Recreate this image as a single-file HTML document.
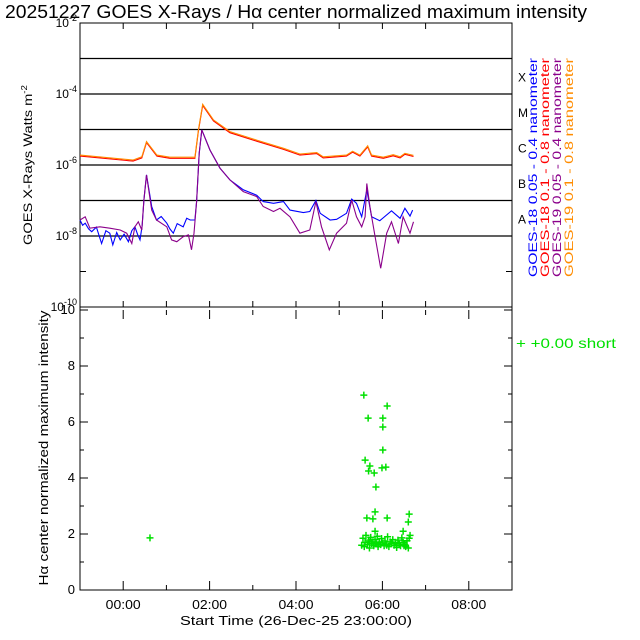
<!DOCTYPE html>
<html><head><meta charset="utf-8"><style>
body{margin:0;background:#fff;}
svg{display:block;font-family:"Liberation Sans",sans-serif;}
</style></head><body>
<svg id="c" width="640" height="640" viewBox="0 0 640 640"></svg>
<script>
const tOrange=[-1,0.23,0.43,0.54,0.78,1.08,1.66,1.74,1.84,2.09,2.47,3.09,3.71,4.09,4.48,4.63,5.17,5.31,5.48,5.66,5.75,6.02,6.25,6.41,6.52,6.72];
const logOrange=[-5.72,-5.86,-5.77,-5.34,-5.72,-5.78,-5.78,-5.01,-4.29,-4.73,-5.06,-5.30,-5.53,-5.69,-5.65,-5.77,-5.72,-5.61,-5.72,-5.46,-5.72,-5.78,-5.71,-5.77,-5.67,-5.73];
const tBlue=[-1,-0.94,-0.88,-0.80,-0.73,-0.62,-0.50,-0.40,-0.31,-0.24,-0.15,-0.07,0.02,0.12,0.20,0.27,0.33,0.39,0.44,0.48,0.54,0.66,0.77,0.88,1.01,1.08,1.16,1.25,1.39,1.47,1.55,1.66,1.70,1.76,1.82,2.01,2.24,2.47,2.78,3.09,3.24,3.48,3.71,3.86,4.17,4.32,4.46,4.56,4.79,4.94,5.17,5.29,5.40,5.52,5.64,5.75,5.94,6.21,6.41,6.52,6.64,6.70];
const logBlue=[-7.55,-7.70,-7.64,-7.80,-7.88,-7.75,-8.21,-7.85,-7.92,-8.25,-7.90,-8.11,-7.95,-8.16,-7.85,-7.74,-7.95,-8.11,-7.70,-6.99,-6.28,-7.17,-7.55,-7.45,-7.64,-7.80,-7.92,-7.65,-7.74,-7.50,-7.55,-7.55,-7.03,-5.67,-5.01,-5.58,-6.09,-6.42,-6.70,-6.85,-7.03,-7.08,-7.03,-7.27,-7.34,-7.31,-7.00,-7.36,-7.55,-7.53,-7.36,-6.96,-7.08,-7.46,-6.70,-7.46,-7.57,-7.29,-7.50,-7.22,-7.44,-7.27];
const tPurple=[-1,-0.88,-0.77,-0.54,-0.31,-0.07,0.08,0.20,0.27,0.35,0.43,0.48,0.54,0.66,0.77,1.01,1.12,1.24,1.39,1.51,1.58,1.64,1.70,1.76,1.82,2.01,2.24,2.47,2.78,3.09,3.24,3.48,3.63,3.86,4.09,4.32,4.46,4.59,4.77,4.94,5.17,5.29,5.40,5.52,5.60,5.64,5.71,5.83,5.96,6.10,6.21,6.37,6.48,6.64,6.72];
const logPurple=[-7.55,-7.46,-7.78,-7.74,-7.78,-7.83,-7.92,-8.21,-7.74,-7.60,-7.83,-6.99,-6.28,-7.27,-7.55,-7.74,-8.11,-8.16,-8.02,-7.97,-8.39,-7.92,-7.03,-5.67,-5.01,-5.58,-6.09,-6.42,-6.75,-6.89,-7.17,-7.31,-7.22,-7.46,-7.92,-7.83,-7.03,-7.74,-8.39,-7.92,-7.64,-6.99,-7.46,-7.74,-7.46,-6.52,-7.17,-8.02,-8.91,-7.92,-7.60,-8.21,-7.46,-7.92,-7.60];
const tHa=[0.62,5.57,6.11,5.67,6.01,6.01,6.01,5.60,5.71,5.68,5.81,5.99,6.08,5.85,5.83,5.64,5.78,6.11,6.62,6.60,5.83,6.48,
5.52,5.55,5.58,5.60,5.62,5.65,5.68,5.70,5.73,5.75,5.78,5.80,5.83,5.86,5.88,5.90,5.93,5.96,5.98,6.01,6.04,6.06,6.09,6.12,6.15,6.18,6.21,6.24,6.27,6.30,6.33,6.36,6.39,6.42,6.45,6.48,6.51,6.54,6.57,6.60,6.62,6.64,5.70,5.90,6.10,6.30,6.50];
const vHa=[1.86,6.96,6.57,6.14,6.14,5.82,5.00,4.64,4.43,4.25,4.18,4.36,4.39,3.68,2.79,2.57,2.54,2.57,2.71,2.43,2.10,2.10,
1.60,1.85,1.55,1.70,1.95,1.62,1.78,1.50,1.88,1.66,1.72,1.58,1.80,1.65,1.92,1.55,1.70,1.62,1.84,1.68,1.58,1.75,1.64,1.90,1.55,1.72,1.66,1.80,1.60,1.70,1.52,1.78,1.64,1.58,1.86,1.70,1.62,1.55,1.76,1.50,1.85,1.95,1.72,1.62,1.60,1.68,1.58];
const xTickLabels=["00:00","02:00","04:00","06:00","08:00"];
const yTopExp=[-2,-4,-6,-8,-10];
const yBotTicks=[0,2,4,6,8,10];
const classLabels=["X","M","C","B","A"];

const S=document.getElementById('c'),NS='http://www.w3.org/2000/svg';
function el(t,a,txt){const e=document.createElementNS(NS,t);for(const k in a)e.setAttribute(k,a[k]);if(txt!==undefined)e.textContent=txt;S.appendChild(e);return e;}
const L=80,R=512,T1=23,B1=307,T2=310,B2=590;
const X=h=>L+(h+1)*(R-L)/10;
const Y1=lg=>T1+(-2-lg)*(B1-T1)/8;
const Y2=v=>B2-v*(B2-T2)/10;

let e;
e=el('text',{x:5,y:18,'font-size':18,textLength:582,lengthAdjust:'spacingAndGlyphs'},'20251227 GOES X-Rays / Hα center normalized maximum intensity');

e=el('rect',{x:L,y:T1,width:R-L,height:B1-T1,fill:'none',stroke:'#000'});

for(let d=-3;d>=-8;d--){e=el('line',{x1:L,x2:R,y1:Y1(d),y2:Y1(d),stroke:'#000','stroke-width':1.3});
}
for(let d=-2;d>=-10;d--){el('line',{x1:L,x2:L+6,y1:Y1(d),y2:Y1(d),stroke:'#000'});el('line',{x1:R-6,x2:R,y1:Y1(d),y2:Y1(d),stroke:'#000'});}
for(let h=0;h<=8;h++){el('line',{x1:X(h),x2:X(h),y1:B1,y2:B1-6,stroke:'#000'});el('line',{x1:X(h),x2:X(h),y1:T1,y2:T1+6,stroke:'#000'});
el('line',{x1:X(h),x2:X(h),y1:B2,y2:B2-(h%2?5:9),stroke:'#000'});el('line',{x1:X(h),x2:X(h),y1:T2,y2:T2+(h%2?5:9),stroke:'#000'});}
yTopExp.forEach(d=>{e=el('text',{x:L-3,y:Y1(d)+4,'font-size':12,'text-anchor':'end'});

e.innerHTML='10<tspan dy="-6" font-size="9">'+d+'</tspan>';});
e=el('text',{transform:'translate(32,165) rotate(-90)','font-size':12,'text-anchor':'middle',textLength:160,lengthAdjust:'spacingAndGlyphs'});

e.innerHTML='GOES X-Rays Watts m<tspan dy="-5" font-size="8">-2</tspan>';
classLabels.forEach((c,i)=>{e=el('text',{x:518,y:Y1(-3.5-i)+5,'font-size':12},c);
});
function line(ts,vs,col,name){const p=ts.map((t,i)=>X(t).toFixed(1)+','+Y1(vs[i]).toFixed(1)).join(' ');
e=el('polyline',{points:p,fill:'none',stroke:col,'stroke-width':1.1});
}
line(tOrange,logOrange.map(v=>v-0.03),'#ff0000','goes18-long-series');
line(tOrange,logOrange,'#ff8c00','goes19-long-series');
line(tBlue,logBlue,'#0000ff','goes18-short-series');
line(tPurple,logPurple,'#8b008b','goes19-short-series');
const leg=[['GOES-18 0.05 - 0.4 nanometer','#0000ff'],['GOES-18 0.1 - 0.8 nanometer','#ff0000'],['GOES-19 0.05 - 0.4 nanometer','#8b008b'],['GOES-19 0.1 - 0.8 nanometer','#ff8c00']];
leg.forEach((l,i)=>{e=el('text',{transform:'translate('+(537+i*12)+',277) rotate(-90)','font-size':12,fill:l[1],textLength:219,lengthAdjust:'spacingAndGlyphs'},l[0]);
});
e=el('rect',{x:L,y:T2-3,width:R-L,height:B2-T2+3,fill:'none',stroke:'#000'});

for(let v=0;v<=10;v++){el('line',{x1:L,x2:L+(v%2?4:8),y1:Y2(v),y2:Y2(v),stroke:'#000'});el('line',{x1:R-(v%2?4:8),x2:R,y1:Y2(v),y2:Y2(v),stroke:'#000'});}
yBotTicks.forEach(v=>{e=el('text',{x:L-5,y:Y2(v)+4,'font-size':13,'text-anchor':'end'},String(v));
});
e=el('text',{transform:'translate(48,448) rotate(-90)','font-size':13,'text-anchor':'middle',textLength:275,lengthAdjust:'spacingAndGlyphs'},'Hα center normalized maximum intensity');

xTickLabels.forEach((s,i)=>{e=el('text',{x:X(i*2),y:609,'font-size':13,'text-anchor':'middle',textLength:35,lengthAdjust:'spacingAndGlyphs'},s);
});
e=el('text',{x:296,y:625,'font-size':13,'text-anchor':'middle',textLength:232,lengthAdjust:'spacingAndGlyphs'},'Start Time (26-Dec-25 23:00:00)');

tHa.forEach((t,i)=>{const x=X(t),y=Y2(vHa[i]);
e=el('path',{d:`M${x-3.5},${y}h7M${x},${y-3.5}v7`,stroke:'#00e000','stroke-width':1.5});
});
e=el('text',{x:516,y:348,'font-size':14,fill:'#00e000',textLength:100,lengthAdjust:'spacingAndGlyphs'},'+  +0.00 short');

</script>
</body></html>
